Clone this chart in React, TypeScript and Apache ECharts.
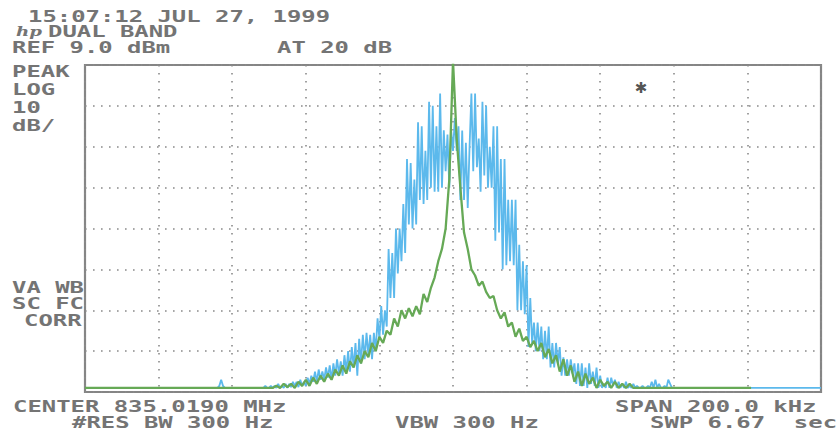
import React, { useEffect, useRef } from "react";
import * as echarts from "echarts";

// Frequency offset from center (kHz)
const startKHz = -100;
const blueStepKHz = 0.5; // 401-point trace
const greenStepKHz = 1;

// Trace A (blue), level relative to reference (dB), -100 kHz .. +100 kHz, 0.5 kHz per point
const blueTrace: number[] = [
  -79, -79, -79, -79, -79, -79, -79, -79, -79, -79,
  -79, -79, -79, -79, -79, -79, -79, -79, -79, -79,
  -79, -79, -79, -79, -79, -79, -79, -79, -79, -79,
  -79, -79, -79, -79, -79, -79, -79, -79, -79, -79,
  -79, -79, -79, -79, -79, -79, -79, -79, -79, -79,
  -79, -79, -79, -79, -79, -79, -79, -79, -79, -79,
  -79, -79, -79, -79, -79, -79, -79, -79, -79, -79,
  -79, -79, -79, -78.5, -77, -78.5, -79, -79, -79, -79,
  -79, -79, -79, -79, -79, -79, -79, -79, -79, -79,
  -79, -79, -79, -79, -79, -79, -79, -79, -78.5, -79,
  -79, -78.5, -79, -78.5, -79, -78, -79, -78.5, -79, -78,
  -79, -78, -78.8, -77.5, -78.5, -77.5, -78.8, -77, -78.5, -77.5,
  -78.5, -76.5, -78, -76, -77.5, -75, -77.5, -74.5, -77, -75,
  -77, -74, -76.5, -73.5, -77, -73, -76, -72, -75.5, -72.5,
  -76, -71, -75, -70, -75, -69, -74, -68, -76, -67,
  -73, -66, -72, -65.5, -71, -66, -72, -65.5, -70, -62,
  -67, -59, -66, -60, -64, -45, -57, -46, -57, -40,
  -51, -40, -48, -34, -46, -23, -39, -24, -40, -28,
  -39, -14, -33, -15, -34, -21, -33, -9, -30, -10,
  -31, -15, -31, -7, -30, -16, -26, -17, -30, -16,
  -21, -13, -21, -15, -33, -16, -33, -19, -35, -20,
  -7, -26, -7, -25, -18, -31, -9, -27, -10, -30,
  -20, -30, -15, -43, -15, -41, -23, -50, -23, -49,
  -33, -48, -33, -49, -33, -60, -44, -60, -48, -61,
  -49, -69, -57, -68, -63, -70, -63, -70, -64, -72,
  -65, -72, -64, -74, -68, -74, -68, -73, -69, -76,
  -71.5, -76, -72, -76, -72, -75.5, -73, -78, -73, -78.5,
  -73, -78.5, -74, -79, -73, -78, -75, -78.5, -74, -79,
  -76, -79, -78, -79, -76.5, -79, -76.5, -78.5, -77, -79,
  -77.5, -79, -78, -79, -77.5, -79, -78.5, -79, -78, -79,
  -78.5, -79, -79, -78.5, -79, -79, -78.5, -79, -77.5, -79,
  -77, -79, -78, -79, -79, -78.5, -79, -77, -78, -79,
  -79, -79, -79, -79, -79, -79, -79, -79, -79, -79,
  -79, -79, -79, -79, -79, -79, -79, -79, -79, -79,
  -79, -79, -79, -79, -79, -79, -79, -79, -79, -79,
  -79, -79, -79, -79, -79, -79, -79, -79, -79, -79,
  -79, -79, -79, -79, -79, -79, -79, -79, -79, -79,
  -79, -79, -79, -79, -79, -79, -79, -79, -79, -79,
  -79, -79, -79, -79, -79, -79, -79, -79, -79, -79,
  -79, -79, -79, -79, -79, -79, -79, -79, -79, -79,
  -79,
];

// Trace B (green), -100 kHz .. +81 kHz, 1 kHz per point
const greenTrace: number[] = [
  -79, -79, -79, -79, -79, -79, -79, -79, -79, -79,
  -79, -79, -79, -79, -79, -79, -79, -79, -79, -79,
  -79, -79, -79, -79, -79, -79, -79, -79, -79, -79,
  -79, -79, -79, -79, -79, -79, -79, -79, -79, -79,
  -79, -79, -79, -79, -79, -79, -79, -79, -79, -79,
  -79, -79, -78.5, -79, -78, -78.8, -78, -79, -77.5, -78.5,
  -77, -78.5, -76.5, -78, -76, -77.5, -75.5, -77, -74.5, -76,
  -73.5, -75.5, -72.5, -74, -71, -73, -70, -71.5, -68, -70,
  -66.5, -68, -65, -66, -62, -64, -60, -62, -59.5, -61.5,
  -59, -61, -56, -58, -54.5, -52, -48, -45, -40, -28,
  1, -18, -30, -41, -45, -50, -51.5, -54, -53, -55.5,
  -57, -56.5, -60, -62, -60.5, -64, -63, -66.5, -64.5, -67.5,
  -66.5, -69, -67.5, -70, -68, -71.5, -69.5, -73, -71, -75,
  -72, -76, -73.5, -77.5, -75, -78.5, -75.5, -78, -76.5, -79,
  -77, -78.5, -77.5, -79, -77.5, -79, -78, -79, -78, -79,
  -79, -79, -79, -79, -79, -79, -79, -79, -79, -79,
  -79, -79, -79, -79, -79, -79, -79, -79, -79, -79,
  -79, -79, -79, -79, -79, -79, -79, -79, -79, -79,
  -79, -79,
];

const headerLines = ["15:07:12 JUL 27, 1999", "DUAL BAND", "REF 9.0 dBm", "AT 20 dB"];
const leftTopLabels = ["PEAK", "LOG", "10", "dB/"];
const leftBottomLabels = ["VA WB", "SC FC", "CORR"];
const footerLabels = ["CENTER 835.0190 MHz", "#RES BW 300 Hz", "VBW 300 Hz", "SPAN 200.0 kHz", "SWP 6.67  sec"];

const toPairs = (vals: number[], step: number) => vals.map((v, i) => [startKHz + i * step, v]);

const FONT = '"DejaVu Sans Mono", monospace';
const TXT = "#747474";
const SX = 1.495;

function label(text: string, x: number, yc: number) {
  return {
    type: "text",
    x,
    y: yc,
    scaleX: SX,
    silent: true,
    style: {
      text,
      fill: TXT,
      fontFamily: FONT,
      fontSize: 16,
      fontWeight: "bold",
      align: "left",
      verticalAlign: "middle",
    },
  };
}

export default function App() {
  const ref = useRef<HTMLDivElement>(null);
  useEffect(() => {
    if (!ref.current) return;
    const chart = echarts.init(ref.current, null, { renderer: "svg", width: 839, height: 431 });
    const dotted = { color: "#8a8a8a", width: 1.6, type: [1.6, 6.4] };
    chart.setOption({
      animation: false,
      backgroundColor: "#ffffff",
      grid: {
        left: 85,
        top: 65,
        width: 736,
        height: 327,
        show: true,
        borderColor: "#858585",
        borderWidth: 2.2,
        backgroundColor: "transparent",
      },
      xAxis: {
        type: "value",
        min: -100,
        max: 100,
        interval: 20,
        axisLine: { show: false },
        axisTick: { show: false },
        axisLabel: { show: false },
        splitLine: { show: true, lineStyle: dotted },
      },
      yAxis: {
        type: "value",
        min: -80,
        max: 0,
        interval: 10,
        axisLine: { show: false },
        axisTick: { show: false },
        axisLabel: { show: false },
        splitLine: { show: true, lineStyle: dotted },
      },
      series: [
        {
          type: "line",
          data: toPairs(blueTrace, blueStepKHz),
          showSymbol: false,
          lineStyle: { color: "#5cb9ec", width: 1.8 },
          clip: true,
          z: 2,
        },
        {
          type: "line",
          data: toPairs(greenTrace, greenStepKHz),
          showSymbol: false,
          lineStyle: { color: "#66a956", width: 2.3 },
          clip: true,
          z: 3,
        },
      ],
      graphic: [
        label(headerLines[0], 28, 16),
        {
          type: "text",
          x: 16,
          y: 31.5,
          scaleX: 1.4,
          silent: true,
          style: {
            text: "hp",
            fill: TXT,
            fontFamily: '"DejaVu Serif", serif',
            fontStyle: "italic",
            fontWeight: "bold",
            fontSize: 13,
            align: "left",
            verticalAlign: "middle",
          },
        },
        label(headerLines[1], 48, 31.5),
        label(headerLines[2], 12, 47),
        label(headerLines[3], 277, 47),
        label(leftTopLabels[0], 12, 71),
        label(leftTopLabels[1], 12, 89),
        label(leftTopLabels[2], 12, 107),
        label(leftTopLabels[3], 12, 125),
        label(leftBottomLabels[0], 12, 287),
        label(leftBottomLabels[1], 12, 303),
        label(leftBottomLabels[2], 24, 320),
        label(footerLabels[0], 13, 406.5),
        label(footerLabels[1], 72, 422.5),
        label(footerLabels[2], 395, 422.5),
        label(footerLabels[3], 615, 406),
        label(footerLabels[4], 650, 422.5),
        {
          type: "text",
          x: 641,
          y: 88,
          silent: true,
          style: {
            text: "✱",
            fill: "#555555",
            fontFamily: '"DejaVu Sans", sans-serif',
            fontSize: 15,
            fontWeight: "bold",
            align: "center",
            verticalAlign: "middle",
          },
        },
      ],
    });
    return () => chart.dispose();
  }, []);
  return (
    <div
      ref={ref}
      style={{ position: "fixed", left: 0, top: 0, width: 839, height: 431, background: "#fff" }}
    />
  );
}
